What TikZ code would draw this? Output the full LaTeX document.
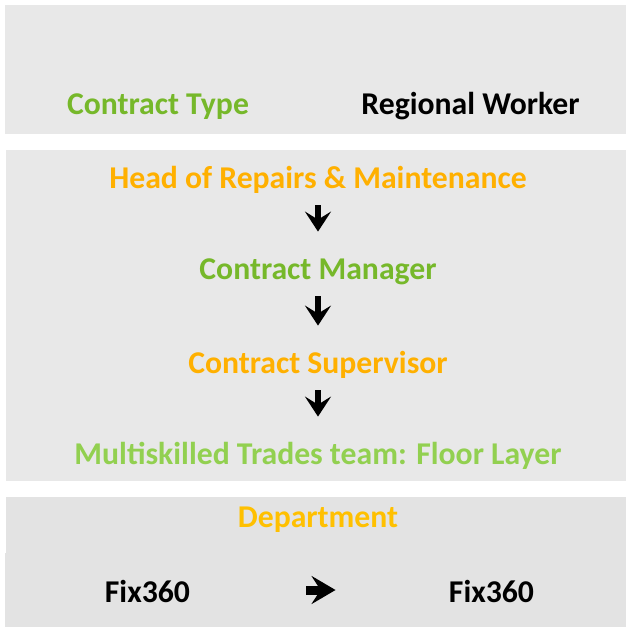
\documentclass[tikz,border=0pt]{standalone}
\usepackage{fontspec}
\setmainfont{Carlito}
\usepackage{xcolor}
\usetikzlibrary{positioning, arrows.meta}

\definecolor{amberdark}{HTML}{FFB000}
\definecolor{amberlight}{HTML}{FFC000}
\definecolor{leafdark}{HTML}{76B82A}
\definecolor{leaflight}{HTML}{92D050}
\definecolor{panelgray}{HTML}{E8E8E8}

\begin{document}
\begin{tikzpicture}[
    x=0.5pt, y=-0.5pt, % one unit = one pixel of the 627x627 layout
    role/.style={font=\fontsize{15.85}{19}\selectfont\bfseries, inner sep=0pt, text height=11pt, text depth=3pt, anchor=base},
    panel/.style={fill=panelgray},
    downarrow/.style={line width=3.2pt, -{Stealth[length=10pt, width=13pt, inset=4pt]}, shorten <=5.5pt, shorten >=12.5pt},
    rightarrow/.style={line width=4.5pt, -{Stealth[length=12pt, width=14pt, inset=4.5pt]}, shorten <=58pt, shorten >=56.5pt}
]
\useasboundingbox (0,0) rectangle (627,627);

% Background panels
\fill[panel] (5,5) rectangle (626,134);
\fill[panel] (6,150) rectangle (626,481);
\fill[panel, fill=panelgray!98!black] (6,497) rectangle (626,553);
\fill[panel, fill=panelgray!98!black] (5,553) rectangle (626,627);

% --- Contract type ---
\node[role, text=leafdark] (ctype) at (158,114) {Contract Type};
\node[role] (region) at (470.5,114) {Regional Worker};

% --- Reporting line ---
\node[role, text=amberdark] (head) at (318,188) {Head of Repairs \& Maintenance};
\node[role, text=leafdark] (manager) at (318,279) {Contract Manager};
\node[role, text=amberdark] (super) at (318,373) {Contract Supervisor};
\node[role, text=leaflight] (trades) at (318,464) {Multiskilled Trades team: Floor Layer};

\draw[downarrow] (head.south) -- (manager.north);
\draw[downarrow] (manager.south) -- (super.north);
\draw[downarrow] (super.south) -- (trades.north);

% --- Department ---
\node[role, text=amberlight] (dept) at (318,527) {Department};
\node[role] (fixL) at (147.5,602) {Fix360};
\node[role] (fixR) at (491.5,602) {Fix360};

\draw[rightarrow] ([yshift=2pt]fixL.east) -- ([yshift=2pt]fixR.west);

\end{tikzpicture}
\end{document}
